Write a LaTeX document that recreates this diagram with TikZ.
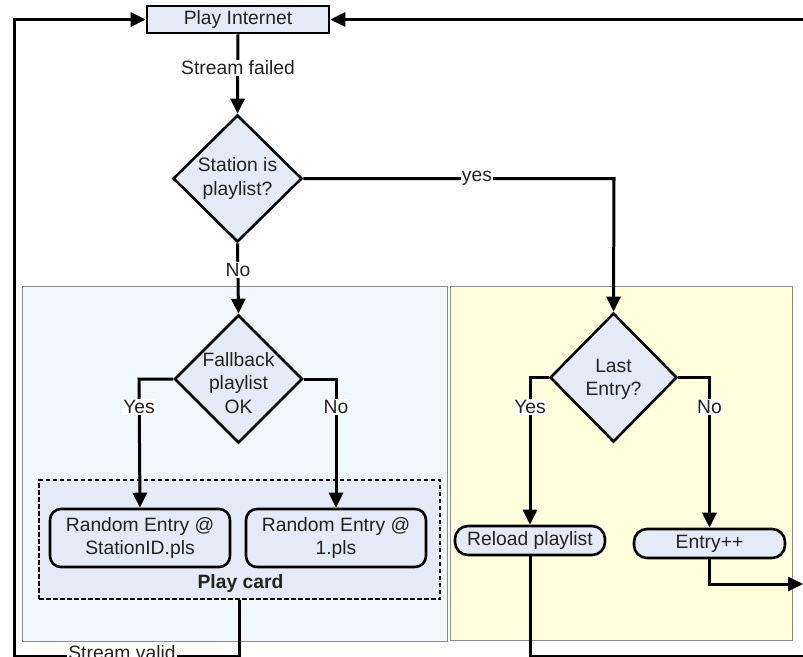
\documentclass[tikz,border=0pt]{standalone}
\usepackage{fontspec}
\setmainfont{Liberation Sans}
\usetikzlibrary{shapes.geometric,arrows.meta}
\definecolor{boxfill}{HTML}{E4EAF6}
\definecolor{leftpanel}{HTML}{F0F7FE}
\definecolor{rightpanel}{HTML}{FFFFDC}
\definecolor{ink}{HTML}{222222}
\definecolor{panelline}{HTML}{8C8C8C}
\begin{document}
\begin{tikzpicture}[x=1pt,y=-1pt,
  font=\fontsize{19.3}{23.5}\selectfont,
  conn/.style={line width=3pt, draw=black},
  arr/.style={conn,-{Triangle[length=15pt,width=14pt]}},
  dia/.style={diamond, draw=black, line width=2.6pt, fill=boxfill, inner sep=0pt, minimum width=128pt, minimum height=128pt},
  txt/.style={align=center, inner sep=0pt, text=ink},
  rbox/.style={rectangle, rounded corners=11pt, draw=black, line width=2.6pt, fill=boxfill, align=center, text=ink, minimum width=180pt, minimum height=58pt, inner sep=0pt},
  pill/.style={rectangle, rounded corners=13pt, draw=black, line width=2.6pt, fill=boxfill, text=ink, minimum width=150pt, minimum height=29pt, inner sep=0pt},
  lbl/.style={fill=white, inner sep=1pt, text=ink},
  panel/.style={draw=panelline, line width=1pt}
]
\useasboundingbox (0,0) rectangle (803,656);
\clip (0,0) rectangle (803,656);

% panels
\node[panel, fill=leftpanel, minimum width=424.5pt, minimum height=355.5pt, inner sep=0pt] (lp) at (234.75,463.75) {};
\node[panel, fill=rightpanel, minimum width=342pt, minimum height=354pt, inner sep=0pt] (rp) at (621,463) {};

% play card group
\node[draw=black, line width=2.5pt, dash pattern=on 4.5pt off 2.5pt, fill=boxfill, minimum width=401pt, minimum height=119pt, inner sep=0pt] (pc) at (239.5,539.5) {};
\node[txt, font=\fontsize{19.3}{23.5}\selectfont\bfseries] (pct) at (240.5,584) {Play card};

% nodes
\node[rectangle, draw=black, line width=2.6pt, fill=boxfill, text=ink, minimum width=182pt, minimum height=27pt, inner sep=0pt] (play) at (238,19.5) {Play Internet};
\node[dia, minimum width=129pt, minimum height=127pt, label={[txt]center:{Station is\\playlist?}}] (d1) at (237.5,178.5) {};
\node[dia, label={[txt, yshift=-4pt]center:{Fallback\\playlist\\OK}}] (d2) at (238.5,379) {};
\node[dia, minimum width=127pt, minimum height=129pt, label={[txt, yshift=-2pt]center:{Last\\Entry?}}] (d3) at (613.5,377.5) {};
\node[rbox] (b1) at (140,538) {Random Entry @\\StationID.pls};
\node[rbox] (b2) at (336,538) {Random Entry @\\1.pls};
\node[pill] (reload) at (530,540.5) {Reload playlist};
\node[pill, minimum width=151pt] (entry) at (709.5,543.5) {Entry++};

% helper coordinates
\coordinate (yesc) at (614,178.5);
\coordinate (d2l) at (139,379);
\coordinate (d2r) at (336,379);
\coordinate (d3l) at (530,377.5);
\coordinate (d3r) at (709.5,377.5);
\coordinate (pcb) at (239.5,656);
\coordinate (bl) at (14,656);
\coordinate (tl) at (14,19.5);
\coordinate (rb) at (530,656);
\coordinate (brr) at (812,656);
\coordinate (trr) at (812,19.5);
\coordinate (ent1) at (709.5,584);
\coordinate (ent2) at (803,584);

% connectors
\draw[arr] (play.south) -- (d1.north);
\draw[arr] (d1.east) -- (yesc) -- (d3.north);
\draw[arr] (d1.south) -- (d2.north);
\draw[arr] (d2.west) -- (d2l) -- (b1.north);
\draw[arr] (d2.east) -- (d2r) -- (b2.north);
\draw[arr] (d3.west) -- (d3l) -- (reload.north);
\draw[arr] (d3.east) -- (d3r) -- (entry.north);
\draw[arr] (pc.south) -- (pcb) -- (bl) -- (tl) -- (play.west);
\draw[arr] (reload.south) -- (rb) -- (brr) -- (trr) -- (play.east);
\draw[arr] (entry.south) -- (ent1) -- (ent2);

% labels
\node[lbl] (l1) at (238,68) {Stream failed};
\node[lbl] (l2) at (477,178.5) {yes};
\node[lbl] (l3) at (238,270) {No};
\node[lbl] (l4) at (139,407) {Yes};
\node[lbl] (l5) at (336,407) {No};
\node[lbl] (l6) at (530,407) {Yes};
\node[lbl] (l7) at (709.5,407) {No};
\node[lbl] (l8) at (122,653) {Stream valid};
\end{tikzpicture}
\end{document}
